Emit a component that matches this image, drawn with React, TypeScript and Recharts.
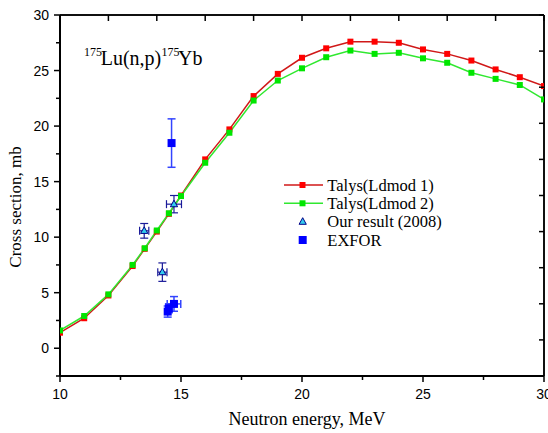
import React from 'react';
import { ComposedChart, Line, Scatter, XAxis, YAxis, ErrorBar, Legend, ReferenceLine } from 'recharts';

// Neutron energies (MeV) for TALYS curves
const energies = [10, 11, 12, 13, 13.5, 14, 14.5, 15, 16, 17, 18, 19, 20, 21, 22, 23, 24, 25, 26, 27, 28, 29, 30];
const talys1 = [1.4, 2.7, 4.75, 7.4, 8.95, 10.5, 12.1, 13.75, 17.0, 19.7, 22.7, 24.7, 26.15, 27.0, 27.6, 27.6, 27.5, 26.9, 26.5, 25.9, 25.1, 24.4, 23.6];
const talys2 = [1.6, 2.9, 4.85, 7.5, 9.0, 10.6, 12.15, 13.7, 16.7, 19.4, 22.3, 24.1, 25.2, 26.2, 26.8, 26.5, 26.6, 26.1, 25.7, 24.8, 24.25, 23.7, 22.4];

// Our result (2008)
const ourE = [13.48, 14.23, 14.71];
const ourXS = [10.57, 6.85, 12.97];
const ourEErr = [0.19, 0.19, 0.31];
const ourXSErr = [0.66, 0.83, 0.78];

// EXFOR
const exforE = [14.61, 14.71, 14.5, 14.45];
const exforXS = [18.47, 3.99, 3.6, 3.3];
const exforEErr = [0, 0.28, 0, 0];
const exforXSErr = [2.18, 0.66, 0.4, 0.5];

// Ticks
const xTicks = [10, 12.5, 15, 17.5, 20, 22.5, 25, 27.5, 30];
const yTicks = [-2.5, 0, 2.5, 5, 7.5, 10, 12.5, 15, 17.5, 20, 22.5, 25, 27.5, 30];
const topTicks = [10, 12, 14, 16, 18, 20, 22, 24, 26, 28, 30];
const rightTicks = [-2.5, 0.75, 4, 7.25, 10.5, 13.75, 17, 20.25, 23.5, 26.75, 30];

const RED_LINE = '#d01818';
const RED_MARK = '#ff0000';
const GREEN_LINE = '#30e830';
const GREEN_MARK = '#00e600';
const BLUE = '#0000ff';
const TRI_FILL = '#33ccee';
const TRI_STROKE = '#000088';

const redData = energies.map((e, i) => ({ e, v: talys1[i] }));
const greenData = energies.map((e, i) => ({ e, v: talys2[i] }));
const ourData = ourE.map((e, i) => ({ e, v: ourXS[i], ex: ourEErr[i], ey: ourXSErr[i] }));
const exforData = exforE.map((e, i) => ({ e, v: exforXS[i], ex: exforEErr[i], ey: exforXSErr[i] }));

const SANS = '"Liberation Sans", Arial, sans-serif';
const SERIF = '"Liberation Serif", "Times New Roman", serif';

const isMajor = (v: number) => Math.abs(v / 5 - Math.round(v / 5)) < 1e-6;

const BottomTick = (p: any) => {
  const v = p.payload.value;
  const maj = isMajor(v);
  return (
    <g>
      <line x1={p.x} x2={p.x} y1={p.y} y2={p.y + (maj ? 6 : 4)} stroke="#000" strokeWidth={1.5} />
      {maj && (
        <text x={p.x} y={p.y + 23} textAnchor="middle" fontFamily={SANS} fontSize={14} fill="#000">
          {v}
        </text>
      )}
    </g>
  );
};

const LeftTick = (p: any) => {
  const v = p.payload.value;
  const maj = isMajor(v);
  return (
    <g>
      <line x1={p.x} x2={p.x - (maj ? 6 : 4)} y1={p.y} y2={p.y} stroke="#000" strokeWidth={1.5} />
      {maj && (
        <text x={p.x - 11} y={p.y + 5} textAnchor="end" fontFamily={SANS} fontSize={14} fill="#000">
          {v}
        </text>
      )}
    </g>
  );
};

const TopTick = (p: any) => (
  <line x1={p.x} x2={p.x} y1={p.y} y2={p.y + 6} stroke="#000" strokeWidth={1.5} />
);

const RightTick = (p: any) => (
  <line x1={p.x} x2={p.x - 5} y1={p.y} y2={p.y} stroke="#000" strokeWidth={1.5} />
);

const squareDot = (color: string, size: number) => (p: any) => {
  if (p.cx == null || p.cy == null) return <g key={`n${p.index}`} />;
  return (
    <rect key={`d${p.index}`} x={p.cx - size / 2} y={p.cy - size / 2} width={size} height={size} fill={color} />
  );
};

const triangle = (p: any) => (
  <path
    d={`M${p.cx},${p.cy - 4} L${p.cx + 3.6},${p.cy + 2.6} L${p.cx - 3.6},${p.cy + 2.6} Z`}
    fill={TRI_FILL}
    stroke={TRI_STROKE}
    strokeWidth={1}
  />
);

const exforSquare = (p: any) => (
  <rect x={p.cx - 4} y={p.cy - 4} width={8} height={8} fill={BLUE} />
);

const legendLabels = ['Talys(Ldmod 1)', 'Talys(Ldmod 2)', 'Our result (2008)', 'EXFOR'];

const renderLegend = () => {
  const rows = [9, 27.3, 45.7, 64];
  return (
    <svg width={185} height={76} style={{ display: 'block' }}>
      <line x1={6} x2={45} y1={rows[0]} y2={rows[0]} stroke={RED_LINE} strokeWidth={1.5} />
      <rect x={21.5} y={rows[0] - 3} width={6} height={6} fill={RED_MARK} />
      <line x1={6} x2={45} y1={rows[1]} y2={rows[1]} stroke={GREEN_LINE} strokeWidth={1.5} />
      <rect x={21.5} y={rows[1] - 3} width={6} height={6} fill={GREEN_MARK} />
      <path
        d={`M24.7,${rows[2] - 4} L28.3,${rows[2] + 2.6} L21.1,${rows[2] + 2.6} Z`}
        fill={TRI_FILL}
        stroke={TRI_STROKE}
        strokeWidth={1}
      />
      <rect x={20.7} y={rows[3] - 4} width={8} height={8} fill={BLUE} />
      {legendLabels.map((t, i) => (
        <text key={t} x={49.3} y={rows[i] + 5.5} fontFamily={SERIF} fontSize={16.5} fill="#000">
          {t}
        </text>
      ))}
    </svg>
  );
};

export default function App() {
  return (
    <div style={{ position: 'relative', width: 548, height: 433, overflow: 'hidden' }}>
      <style>{'html,body{margin:0;padding:0;}'}</style>
      <div style={{ position: 'absolute', left: 8, top: 8, width: 540, height: 425 }}>
        <ComposedChart width={540} height={425} margin={{ top: 6, right: 3, bottom: 0, left: 0 }}>
          <XAxis
            type="number"
            dataKey="e"
            domain={[10, 30]}
            ticks={xTicks}
            interval={0}
            allowDataOverflow
            height={57}
            tickSize={0}
            tickMargin={0}
            tickLine={false}
            axisLine={{ stroke: '#000', strokeWidth: 2 }}
            tick={BottomTick}
          />
          <XAxis
            xAxisId="top"
            orientation="top"
            type="number"
            dataKey="e"
            domain={[10, 30]}
            ticks={topTicks}
            interval={0}
            allowDataOverflow
            height={1}
            tickSize={0}
            tickMargin={0}
            tickLine={false}
            axisLine={{ stroke: '#000', strokeWidth: 1.5 }}
            tick={TopTick}
          />
          <YAxis
            type="number"
            dataKey="v"
            domain={[-2.5, 30]}
            ticks={yTicks}
            interval={0}
            allowDataOverflow
            width={52}
            tickSize={0}
            tickMargin={0}
            tickLine={false}
            axisLine={{ stroke: '#000', strokeWidth: 2 }}
            tick={LeftTick}
          />
          <YAxis
            yAxisId="right"
            orientation="right"
            type="number"
            dataKey="v"
            domain={[-2.5, 30]}
            ticks={rightTicks}
            interval={0}
            allowDataOverflow
            width={1}
            tickSize={0}
            tickMargin={0}
            tickLine={false}
            axisLine={{ stroke: '#000', strokeWidth: 1.5 }}
            tick={RightTick}
          />
          <ReferenceLine y={30} stroke="#000" strokeWidth={1.5} ifOverflow="visible" />
          <ReferenceLine x={30} stroke="#000" strokeWidth={1.5} ifOverflow="visible" />
          <Legend
            layout="horizontal"
            align="center"
            verticalAlign="middle"
            content={renderLegend}
            wrapperStyle={{ left: 270, top: 168, width: 185, height: 76 }}
          />
          <Line
            data={redData}
            xAxisId="top"
            yAxisId="right"
            dataKey="v"
            stroke="none"
            dot={false}
            activeDot={false}
            isAnimationActive={false}
            legendType="none"
          />
          <Line
            data={redData}
            dataKey="v"
            name="Talys(Ldmod 1)"
            stroke={RED_LINE}
            strokeWidth={1.5}
            dot={squareDot(RED_MARK, 6)}
            activeDot={false}
            isAnimationActive={false}
            legendType="none"
          />
          <Line
            data={greenData}
            dataKey="v"
            name="Talys(Ldmod 2)"
            stroke={GREEN_LINE}
            strokeWidth={1.5}
            dot={squareDot(GREEN_MARK, 6)}
            activeDot={false}
            isAnimationActive={false}
            legendType="none"
          />
          <Scatter data={exforData} dataKey="v" name="EXFOR" shape={exforSquare} isAnimationActive={false}>
            <ErrorBar dataKey="ey" direction="y" width={4} stroke="#3344ff" strokeWidth={1.5} isAnimationActive={false} />
            <ErrorBar dataKey="ex" direction="x" width={4} stroke="#3344ff" strokeWidth={1.5} isAnimationActive={false} />
          </Scatter>
          <Scatter data={ourData} dataKey="v" name="Our result (2008)" shape={triangle} isAnimationActive={false}>
            <ErrorBar dataKey="ey" direction="y" width={4} stroke="#1a1a99" strokeWidth={1.2} isAnimationActive={false} />
            <ErrorBar dataKey="ex" direction="x" width={4} stroke="#1a1a99" strokeWidth={1.2} isAnimationActive={false} />
          </Scatter>
        </ComposedChart>
        <svg
          width={540}
          height={425}
          style={{ position: 'absolute', left: 0, top: 0, pointerEvents: 'none' }}
        >
          <text fontFamily={SERIF} fill="#000">
            <tspan x={76} y={47.5} fontSize={12}>175</tspan>
            <tspan x={92.7} y={57} fontSize={20}>Lu(n,p)</tspan>
            <tspan x={153.5} y={47.5} fontSize={12}>175</tspan>
            <tspan x={170} y={57} fontSize={20}>Yb</tspan>
          </text>
          <text x={299} y={417} textAnchor="middle" fontFamily={SERIF} fontSize={18} fill="#000">
            Neutron energy, MeV
          </text>
          <text
            x={13}
            y={199}
            textAnchor="middle"
            fontFamily={SERIF}
            fontSize={17}
            fill="#000"
            transform="rotate(-90, 13, 199)"
          >
            Cross section, mb
          </text>
        </svg>
      </div>
    </div>
  );
}
